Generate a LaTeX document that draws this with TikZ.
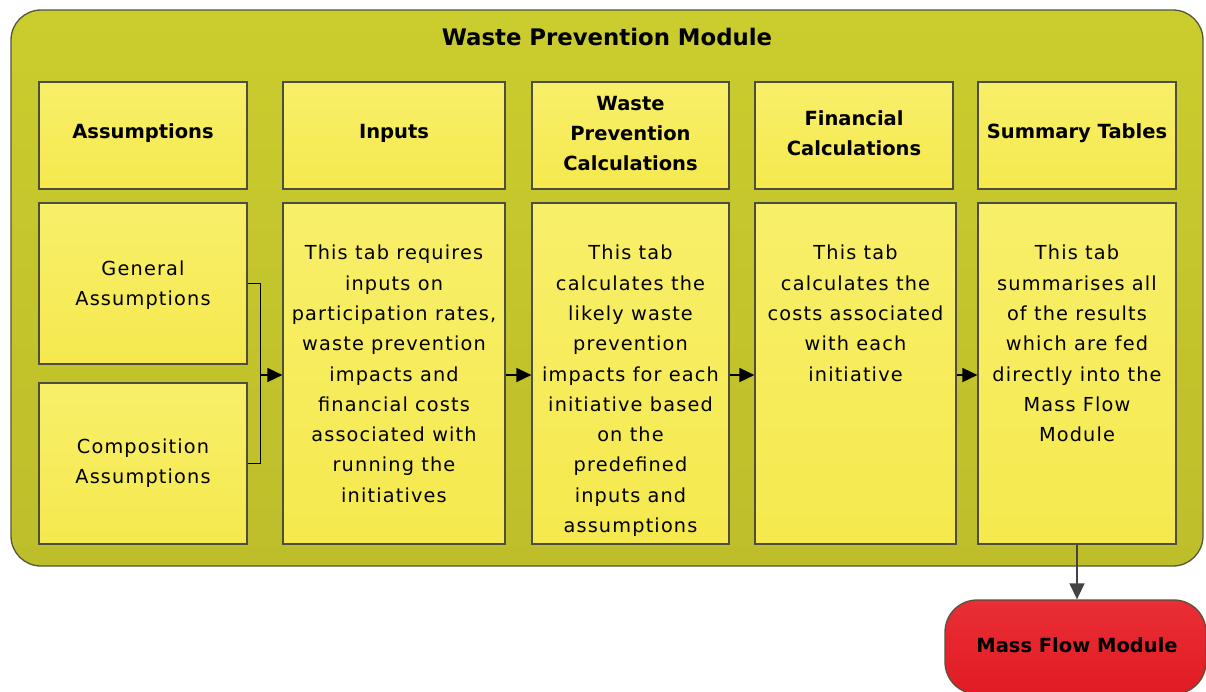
\documentclass[tikz,border=0pt]{standalone}
\usepackage{fontspec}
\setmainfont{DejaVu Sans}
\newfontfamily\bodyfont[LetterSpace=6]{DejaVu Sans}
\usetikzlibrary{arrows.meta}
\definecolor{olivetop}{HTML}{CBCC2D}
\definecolor{olivebot}{HTML}{BDBE2A}
\definecolor{olivedge}{HTML}{55553C}
\definecolor{ytop}{HTML}{F8EF6A}
\definecolor{ybot}{HTML}{F5E94E}
\definecolor{boxline}{HTML}{4E4E40}
\definecolor{mfred}{HTML}{E81C24}
\definecolor{arrgray}{HTML}{444444}
\begin{document}
\begin{tikzpicture}[x=1pt,y=-1pt,
  outerbox/.style={draw=olivedge, line width=1.3pt, top color=olivetop, bottom color=olivebot, rounded corners=30pt},
  box/.style={draw=boxline, line width=1.2pt, top color=ytop, bottom color=ybot, inner sep=0pt},
  hdr/.style={font=\bfseries\fontsize{19.5}{30}\selectfont, align=center},
  body/.style={font=\bodyfont\fontsize{19.3}{30.3}\selectfont, align=center, anchor=north, inner sep=0pt},
  arr/.style={-{Triangle[length=15pt,width=14pt]}, line width=1.6pt, black},
  garr/.style={-{Triangle[length=16pt,width=15pt]}, line width=1.4pt, arrgray},
  mfbox/.style={draw=olivedge, line width=1.3pt, top color=mfred!92!white, bottom color=mfred!97!black, rounded corners=32pt}
]
\useasboundingbox (0,0) rectangle (1206,691);
\clip (0,0) rectangle (1206,691);
% outer module
\node[outerbox, minimum width=1192pt, minimum height=556pt] (outer) at (607,288) {};
\node[font=\bfseries\fontsize{22.8}{26}\selectfont] (title) at (607,37) {Waste Prevention Module};
% headers
\node[box, minimum width=208pt, minimum height=107pt] (hA) at (143,135.5) {};
\node[box, minimum width=222pt, minimum height=107pt] (hI) at (394,135.5) {};
\node[box, minimum width=197pt, minimum height=107pt] (hW) at (630.5,135.5) {};
\node[box, minimum width=198pt, minimum height=107pt] (hF) at (854,135.5) {};
\node[box, minimum width=198pt, minimum height=107pt] (hS) at (1077,135.5) {};
\node[hdr] (lA) at (143,133.5) {Assumptions};
\node[hdr] (lI) at (394,133.5) {Inputs};
\node[hdr] (lW) at (630.5,133.5) {Waste\\Prevention\\Calculations};
\node[hdr] (lF) at (854,133.5) {Financial\\Calculations};
\node[hdr] (lS) at (1077,133.5) {Summary Tables};
% body boxes
\node[box, minimum width=208pt, minimum height=161pt] (bG) at (143,283.5) {};
\node[box, minimum width=208pt, minimum height=161pt] (bC) at (143,463.5) {};
\node[box, minimum width=222pt, minimum height=341pt] (bI) at (394,373.5) {};
\node[box, minimum width=197pt, minimum height=341pt] (bW) at (630.5,373.5) {};
\node[box, minimum width=201pt, minimum height=341pt] (bF) at (855.5,373.5) {};
\node[box, minimum width=198pt, minimum height=341pt] (bS) at (1077,373.5) {};
% body texts
\node[body] (tG) at (143,260.5) {General\\Assumptions};
\node[body] (tC) at (143,438.5) {Composition\\Assumptions};
\node[body] (tI) at (394,245) {This tab requires\\inputs on\\participation rates,\\waste prevention\\impacts and\\financial costs\\associated with\\running the\\initiatives};
\node[body] (tW) at (630.5,245) {This tab\\calculates the\\likely waste\\prevention\\impacts for each\\initiative based\\on the\\predefined\\inputs and\\assumptions};
\node[body] (tF) at (855.5,245) {This tab\\calculates the\\costs associated\\with each\\initiative};
\node[body] (tS) at (1077,245) {This tab\\summarises all\\of the results\\which are fed\\directly into the\\Mass Flow\\Module};
% mass flow module
\node[mfbox, minimum width=261pt, minimum height=94pt] (mf) at (1075.5,647) {};
\node[font=\bfseries\fontsize{19.5}{22}\selectfont] (mfl) at (1077,645) {Mass Flow Module};
% connectors
\coordinate (br) at (260,375);
\draw[line width=1.6pt, black] (bG.east) -- ++(13,0) |- (bC.east);
\draw[arr] (br) -- (bI.west |- br);
\draw[arr] (bI.east |- br) -- (bW.west |- br);
\draw[arr] (bW.east |- br) -- (bF.west |- br);
\draw[arr] (bF.east |- br) -- (bS.west |- br);
\draw[garr] (bS.south) -- (bS.south |- mf.north);
\end{tikzpicture}
\end{document}
